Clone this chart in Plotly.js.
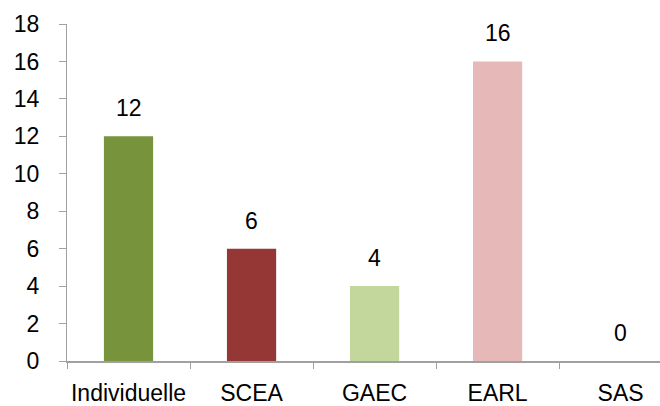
<!DOCTYPE html>
<html>
<head>
<meta charset="utf-8">
<script src="https://cdn.plot.ly/plotly-3.0.1.min.js"></script>
<style>html,body{margin:0;padding:0;background:#fff;overflow:hidden;}#chart{width:660px;height:406px;}</style>
</head>
<body>
<div id="chart"></div>
<script>
const categories = ["Individuelle", "SCEA", "GAEC", "EARL", "SAS"];
const values = [12, 6, 4, 16, 0];
const barColors = ["#77933C", "#953735", "#C3D69B", "#E6B9B8", "#4F81BD"];
const yTicks = [0, 2, 4, 6, 8, 10, 12, 14, 16, 18];

const FONT = "'Liberation Sans', Arial, sans-serif";
const FS = 23;

const trace = {
  type: "bar",
  x: categories,
  y: values,
  marker: {color: barColors},
  width: 0.4,
  hoverinfo: "none"
};

const annotations = categories.map((c, i) => ({
  x: c, y: values[i], xref: "x", yref: "y",
  text: String(values[i]), showarrow: false,
  yanchor: "bottom", yshift: 13,
  font: {family: FONT, size: FS, color: "#000"}
}));

const layout = {
  width: 660, height: 406,
  margin: {l: 67, r: 0, t: 24, b: 45, pad: 0},
  paper_bgcolor: "#fff", plot_bgcolor: "#fff",
  showlegend: false,
  font: {family: FONT, size: FS, color: "#000"},
  xaxis: {
    type: "category",
    range: [-0.5, 4.32],
    tickangle: 0,
    showline: true, linecolor: "#A0A0A0", linewidth: 2,
    ticks: "outside", tickson: "boundaries", ticklen: 6, tickcolor: "#A0A0A0", tickwidth: 1,
    showgrid: false, zeroline: false,
    ticklabelstandoff: 10,
    tickfont: {family: FONT, size: FS, color: "#000"}
  },
  yaxis: {
    range: [0, 18],
    tickmode: "array", tickvals: yTicks, ticktext: yTicks.map(String),
    showline: true, linecolor: "#A0A0A0", linewidth: 1,
    ticks: "outside", ticklen: 7, tickcolor: "#A0A0A0", tickwidth: 1,
    showgrid: false, zeroline: false,
    ticklabelstandoff: 15,
    tickfont: {family: FONT, size: FS, color: "#000"}
  },
  annotations: annotations
};

Plotly.newPlot("chart", [trace], layout, {displayModeBar: false, staticPlot: true});
</script>
</body>
</html>
